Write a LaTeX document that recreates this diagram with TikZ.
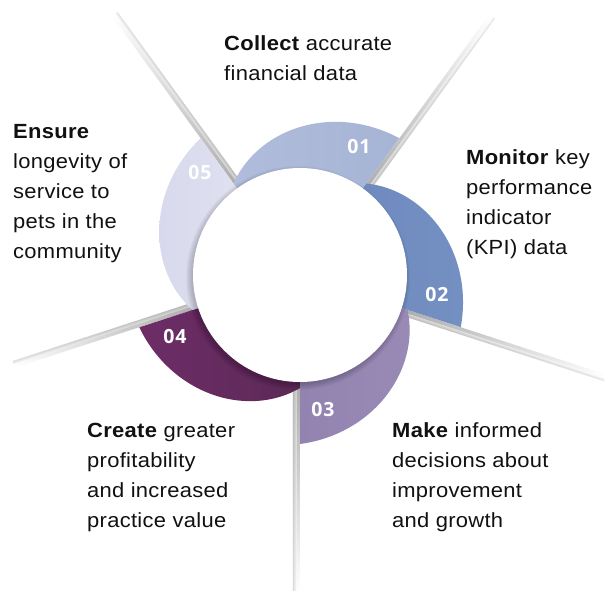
\documentclass[tikz,border=0pt]{standalone}
\usepackage{fontspec}
\setmainfont{Liberation Sans}[FakeStretch=1.07,LetterSpace=1.5]
\newfontfamily\numfont{Open Sans}[LetterSpace=4]
\definecolor{oneA}{HTML}{B0BCDB}
\definecolor{oneB}{HTML}{A6B4D5}
\definecolor{twoA}{HTML}{6F89BE}
\definecolor{twoB}{HTML}{7490C2}
\definecolor{thrA}{HTML}{9283B0}
\definecolor{thrB}{HTML}{9889B5}
\definecolor{fouA}{HTML}{6E2C67}
\definecolor{fouB}{HTML}{5B2A56}
\definecolor{fivA}{HTML}{D8D9EC}
\definecolor{fivB}{HTML}{E0E1F0}
\definecolor{txt}{HTML}{111111}
\pgfdeclareradialshading{sphere}{\pgfpoint{14bp}{14bp}}{color(0bp)=(white); color(42bp)=(white); color(58bp)=(black!5); color(72bp)=(black!13); color(95bp)=(black!20)}
\newcommand\lbl[1]{\begin{tabular}[t]{@{}l@{}}#1\end{tabular}}
\tikzset{
  label text/.style={anchor=base west, inner sep=0pt, text=txt, font=\fontsize{20.5}{30}\selectfont},
  num text/.style={text=white, inner sep=0pt, font=\numfont\bfseries\fontsize{19.5}{20}\selectfont},
}
\begin{document}
\begin{tikzpicture}[x=1pt,y=1pt]
\useasboundingbox (-300,-315) rectangle (311,275);
\fill[white] (-300,-315) rectangle (311,275);
% grey spokes
\foreach \th/\len in {54/322, 126/320, 198/300, 270/318, -18/322}{
  \begin{scope}[transform canvas={rotate=\th}]
    \shade[left color=black!34, middle color=black!17, right color=white] (100,-7) rectangle (\len,0);
    \shade[top color=white, bottom color=black!25, opacity=0.5] (100,-7) rectangle (\len,-3.5);
  \end{scope}
}
% segments
\foreach \th/\ca/\cb in {54/oneA/oneB, -18/twoA/twoB, -90/thrA/thrB, 198/fouA/fouB, 126/fivA/fivB}{
  \shade[left color=\ca, right color=\cb]
    plot[domain=0:1,samples=60,variable=\t] ({\th+72*(1-\t)}:{113+56*\t*(1.5-0.5*\t)})
    -- (\th:80) arc[start angle=\th, delta angle=72, radius=80] -- cycle;
}
% circle shadow
\foreach \i in {1,...,7}{
  \fill[black,opacity=0.03] (-2,-3) circle (105+\i);
}
\shade[shading=sphere] (0,0) circle (107);
\node (c) at (0,0) {};
% numbers
\node[num text] (n1) at (59,128) {01};
\node[num text] (n2) at (137,-20) {02};
\node[num text] (n3) at (23,-135) {03};
\node[num text] (n4) at (-125,-62) {04};
\node[num text] (n5) at (-100,102) {05};
% labels
\node[label text] (collect) at (-76,225) {\lbl{\textbf{Collect} accurate\\financial data}};
\node[label text] (monitor) at (166,111) {\lbl{\textbf{Monitor} key\\performance\\indicator\\(KPI) data}};
\node[label text] (ensure) at (-287,137) {\lbl{\textbf{Ensure}\\longevity of\\service to\\pets in the\\community}};
\node[label text] (create) at (-213,-162) {\lbl{\textbf{Create} greater\\profitability\\and increased\\practice value}};
\node[label text] (make) at (92,-162) {\lbl{\textbf{Make} informed\\decisions about\\improvement\\and growth}};
\end{tikzpicture}
\end{document}
